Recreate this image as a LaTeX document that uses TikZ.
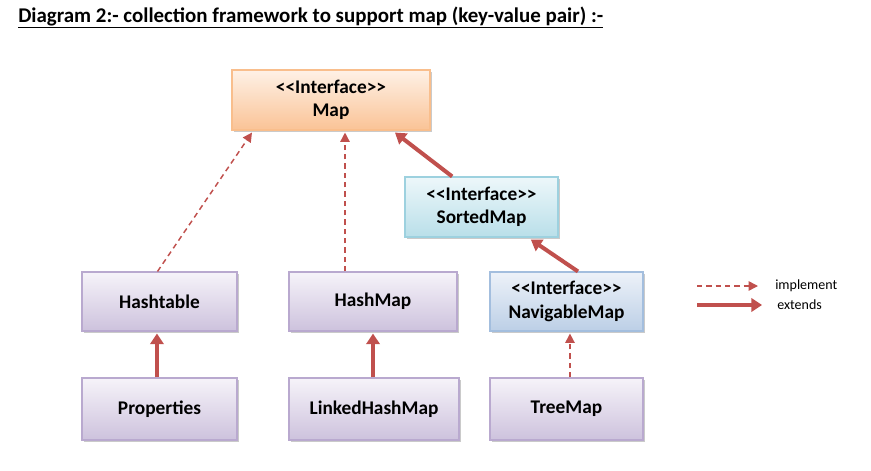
\documentclass[tikz,border=0pt]{standalone}
\usepackage{fontspec}
\setmainfont{Carlito}
\usetikzlibrary{arrows.meta,positioning,shadows}
\definecolor{Arrow}{HTML}{C0504D}
\definecolor{OrangeTop}{HTML}{FEF1E6}
\definecolor{OrangeBot}{HTML}{FAC396}
\definecolor{OrangeRule}{HTML}{F9BE8C}
\definecolor{CyanTop}{HTML}{EDF7FA}
\definecolor{CyanBot}{HTML}{B9DFE9}
\definecolor{CyanRule}{HTML}{9DD1DF}
\definecolor{BlueTop}{HTML}{EDF2F9}
\definecolor{BlueBot}{HTML}{BCCFE6}
\definecolor{BlueRule}{HTML}{A3BEDE}
\definecolor{LilacTop}{HTML}{F6F3F9}
\definecolor{LilacBot}{HTML}{CDC2DD}
\definecolor{LilacRule}{HTML}{B9A9CF}
\newcommand{\stereo}{{<}{<}Interface{>}{>}}
\tikzset{
  cls/.style={line width=.8pt,align=center,font=\bfseries\fontsize{14.5}{17.5}\selectfont,
    drop shadow={shadow xshift=1.6pt,shadow yshift=-1.6pt,fill=black!35,opacity=.6}},
  iface/.style={cls},
  orangebox/.style={draw=OrangeRule,top color=OrangeTop,bottom color=OrangeBot},
  cyanbox/.style={draw=CyanRule,top color=CyanTop,bottom color=CyanBot},
  bluebox/.style={draw=BlueRule,top color=BlueTop,bottom color=BlueBot},
  lilacbox/.style={draw=LilacRule,top color=LilacTop,bottom color=LilacBot},
  impl/.style={-{Triangle[length=7pt,width=7pt]},draw=Arrow,line width=1.1pt,dash pattern=on 4pt off 3pt},
  ext/.style={-{Triangle[length=8pt,width=10pt]},draw=Arrow,line width=3pt},
  legendtext/.style={font=\fontsize{10.5}{12}\selectfont,anchor=west,inner sep=0pt}
}
\begin{document}
\begin{tikzpicture}[x=.75pt,y=-.75pt]
  \useasboundingbox (0,0) rectangle (871,471);
  \node[anchor=base west,inner sep=0pt,font=\bfseries\fontsize{15.7}{18}\selectfont] (title) at (18,22)
    {\underline{Diagram 2:- collection framework to support map (key-value pair) :-}};
  % interfaces
  \node[iface,orangebox,minimum width=148.5pt,minimum height=45pt] (map) at (331,100) {\stereo\\Map};
  \node[iface,cyanbox,minimum width=114.75pt,minimum height=45pt] (sorted) at (481.5,207) {\stereo\\SortedMap};
  \node[iface,bluebox,minimum width=114.75pt,minimum height=44.25pt] (navig) at (566.5,301.5) {\stereo\\NavigableMap};
  % classes
  \node[cls,lilacbox,minimum width=116.25pt,minimum height=44.25pt] (hashtable) at (159.5,301.5) {Hashtable};
  \node[cls,lilacbox,minimum width=126pt,minimum height=44.25pt] (hashmap) at (373,301.5) {HashMap};
  \node[cls,lilacbox,minimum width=116.25pt,minimum height=46.5pt] (props) at (159.5,409) {Properties};
  \node[cls,lilacbox,minimum width=127.5pt,minimum height=46.5pt] (linked) at (374,409) {LinkedHashMap};
  \node[cls,lilacbox,minimum width=114.75pt,minimum height=46.5pt] (treemap) at (566.5,409) {TreeMap};
  % relations
  \draw[impl] ([xshift=-1.5pt]hashtable.north) -- ([xshift=-59.25pt,yshift=-1.5pt]map.south);
  \draw[impl] ([xshift=-21pt]hashmap.north) -- ([xshift=10.5pt,yshift=-1.5pt]map.south);
  \draw[ext] ([xshift=-22pt]sorted.north) -- ([xshift=48pt,yshift=-1.5pt]map.south);
  \draw[ext] ([xshift=8.6pt]navig.north) -- ([xshift=37pt,yshift=-1.5pt]sorted.south);
  \draw[ext] ([xshift=-1.9pt]props.north) -- ([xshift=-1.9pt,yshift=-1.5pt]hashtable.south);
  \draw[ext] ([xshift=-0.75pt]linked.north) -- ([yshift=-1.5pt]hashmap.south);
  \draw[impl] ([xshift=2.6pt]treemap.north) -- ([xshift=2.6pt,yshift=-1.5pt]navig.south);
  % legend
  \coordinate (implA) at (697,286);
  \coordinate (implB) at (758,286);
  \coordinate (extA) at (697,305);
  \coordinate (extB) at (762,305);
  \draw[impl] (implA) -- (implB);
  \draw[ext] (extA) -- (extB);
  \node[legendtext] (impllabel) at (775,286) {implement};
  \node[legendtext] (extlabel) at (777,305) {extends};
\end{tikzpicture}
\end{document}
